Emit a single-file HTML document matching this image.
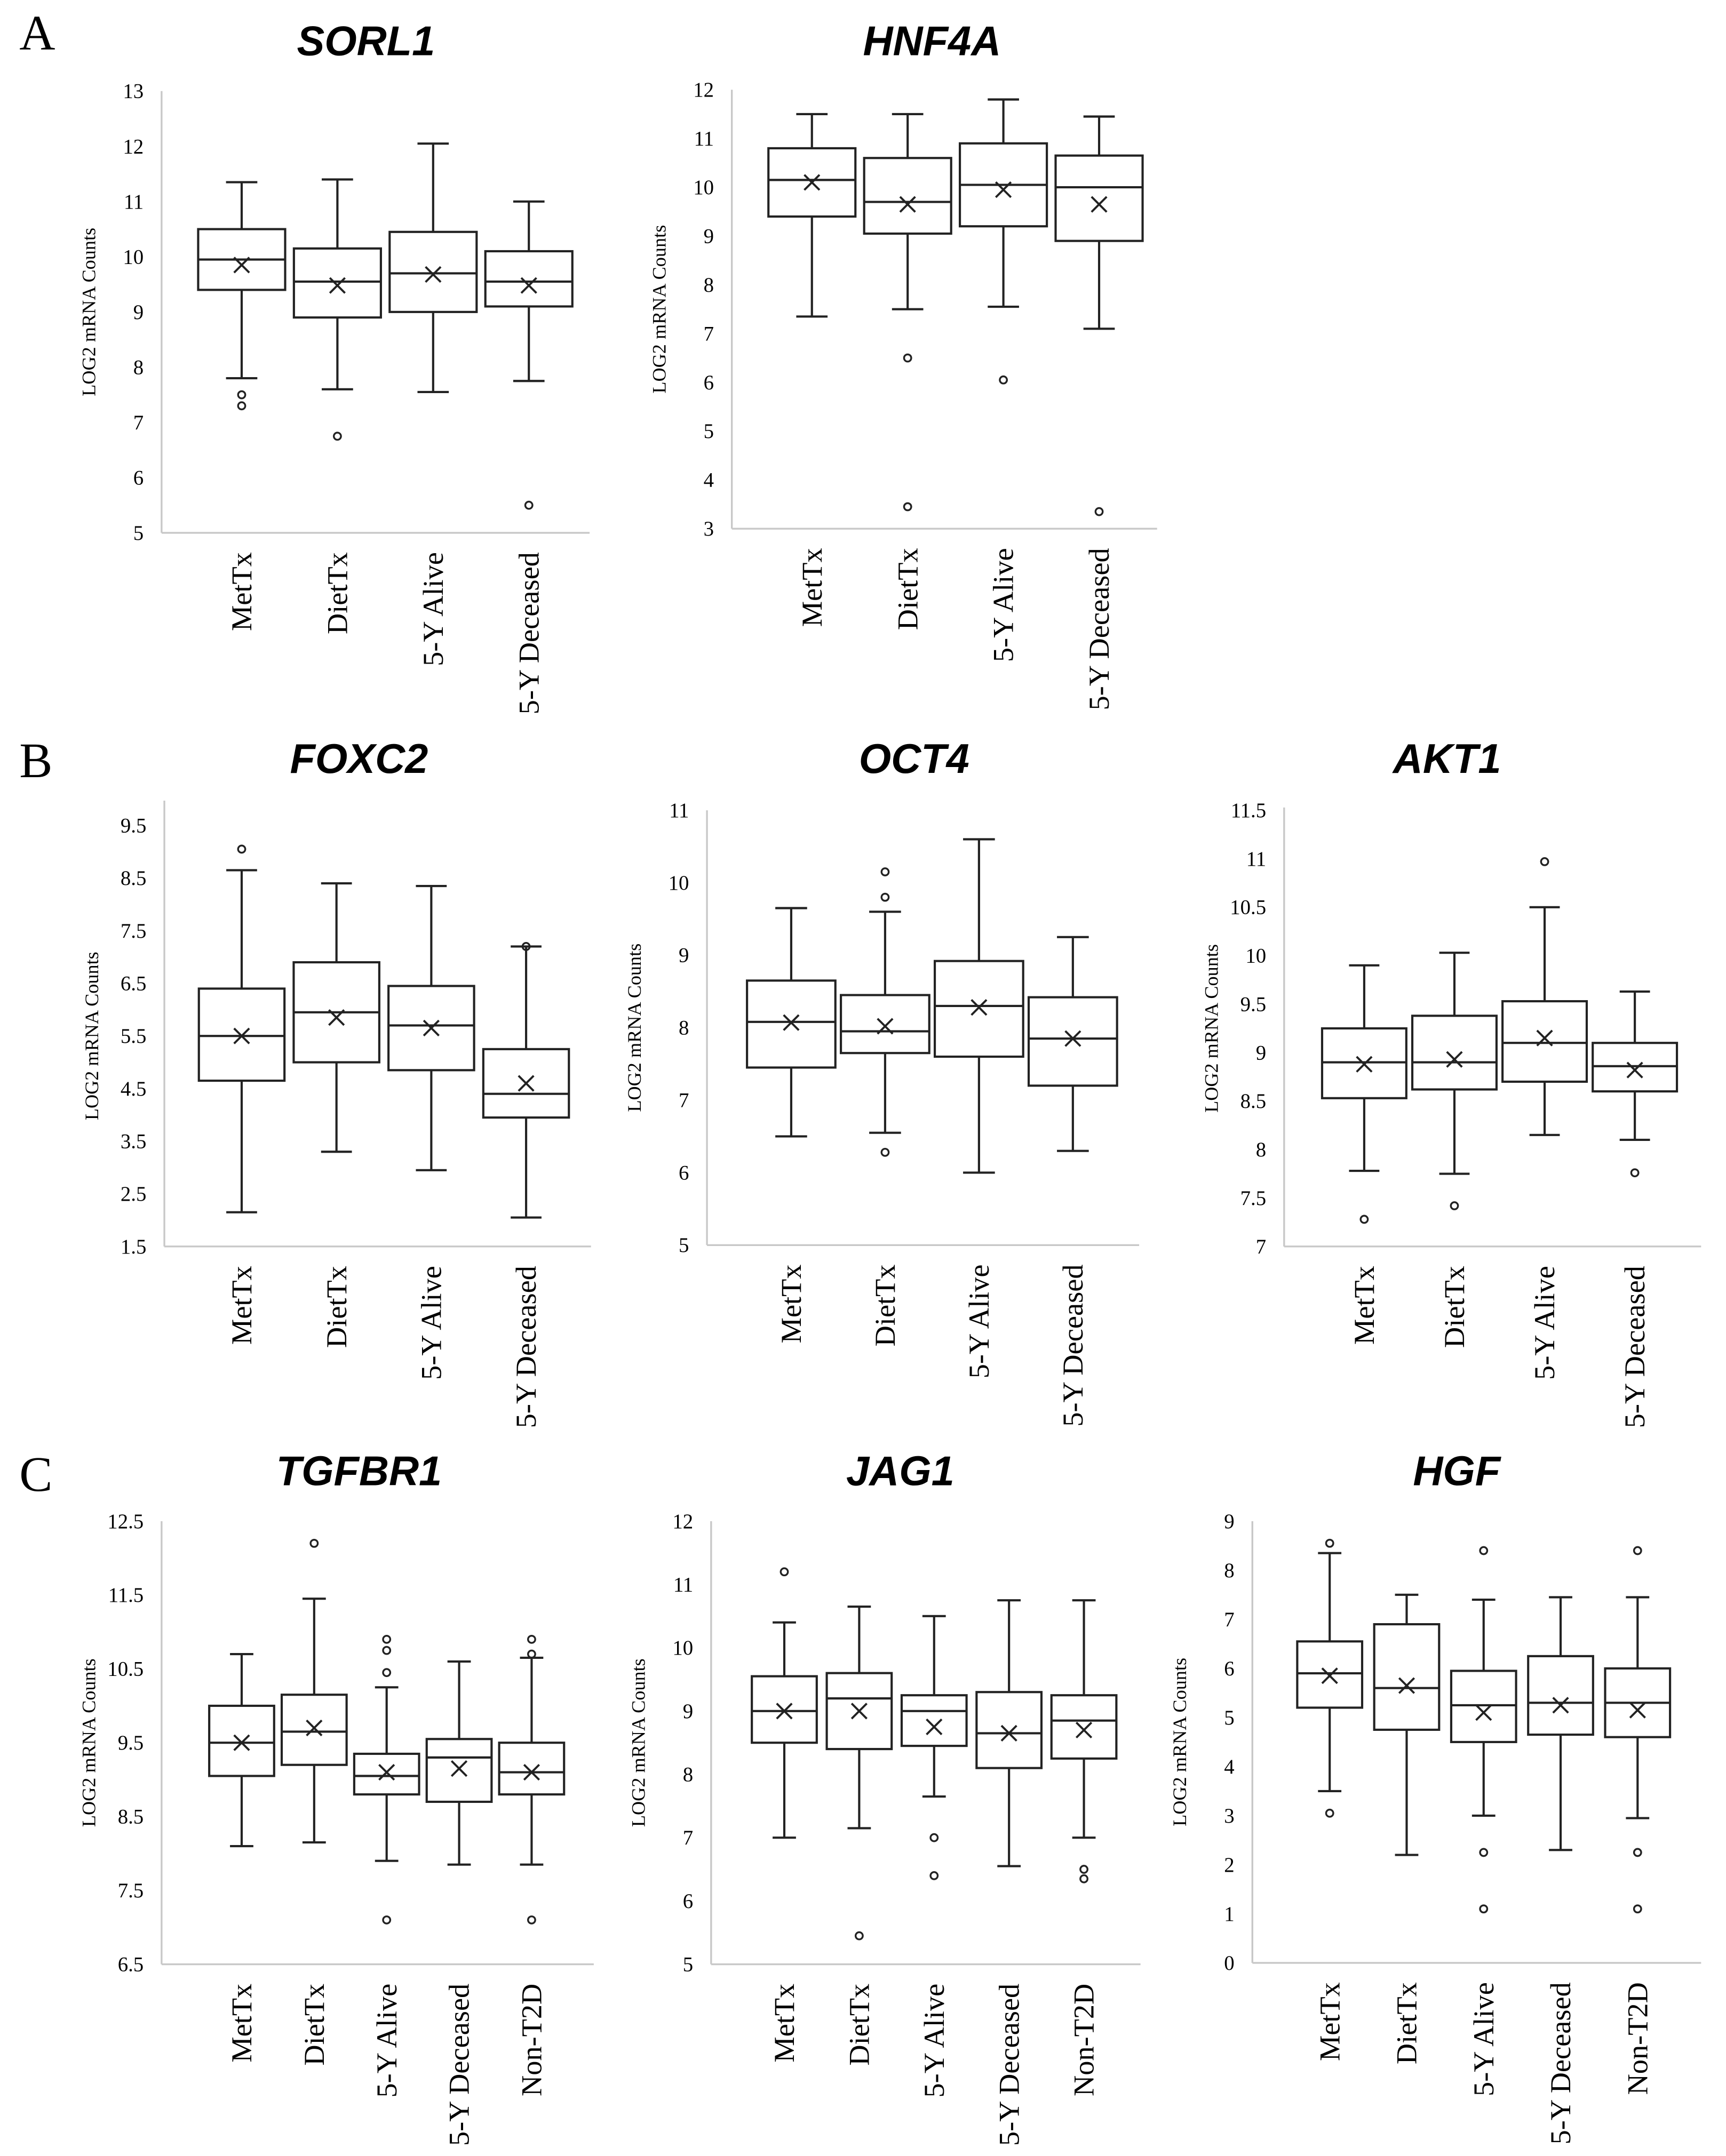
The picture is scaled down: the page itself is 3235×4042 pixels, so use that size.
<!DOCTYPE html>
<html><head><meta charset="utf-8"><style>
html,body{margin:0;padding:0;background:#fff;}
svg{display:block;}
</style></head><body>
<svg id="fig" width="3235" height="4042" viewBox="0 0 1250 1561.9" xmlns="http://www.w3.org/2000/svg">
<rect width="1250" height="1562" fill="#fff"/>
<text x="14" y="36" font-family="Liberation Serif, serif" font-size="36">A</text>
<text x="14" y="563" font-family="Liberation Serif, serif" font-size="36">B</text>
<text x="14" y="1080" font-family="Liberation Serif, serif" font-size="36">C</text>
</svg>
<script>
const cats4 = ["MetTx","DietTx","5-Y Alive","5-Y Deceased"];
const cats5 = ["MetTx","DietTx","5-Y Alive","5-Y Deceased","Non-T2D"];

const sorl1Ticks = ["5","6","7","8","9","10","11","12","13"];
const sorl1Low = [7.8,7.6,7.55,7.75];
const sorl1Q1 = [9.4,8.9,9.0,9.1];
const sorl1Median = [9.95,9.55,9.7,9.55];
const sorl1Q3 = [10.5,10.15,10.45,10.1];
const sorl1High = [11.35,11.4,12.05,11.0];
const sorl1Mean = [9.85,9.48,9.68,9.48];
const sorl1Outliers = [[7.5,7.3],[6.75],[],[5.5]];

const hnf4aTicks = ["3","4","5","6","7","8","9","10","11","12"];
const hnf4aLow = [7.35,7.5,7.55,7.1];
const hnf4aQ1 = [9.4,9.05,9.2,8.9];
const hnf4aMedian = [10.15,9.7,10.05,10.0];
const hnf4aQ3 = [10.8,10.6,10.9,10.65];
const hnf4aHigh = [11.5,11.5,11.8,11.45];
const hnf4aMean = [10.1,9.65,9.95,9.65];
const hnf4aOutliers = [[],[6.5,3.45],[6.05],[3.35]];

const foxc2Ticks = ["1.5","2.5","3.5","4.5","5.5","6.5","7.5","8.5","9.5"];
const foxc2Low = [2.15,3.3,2.95,2.05];
const foxc2Q1 = [4.65,5.0,4.85,3.95];
const foxc2Median = [5.5,5.95,5.7,4.4];
const foxc2Q3 = [6.4,6.9,6.45,5.25];
const foxc2High = [8.65,8.4,8.35,7.2];
const foxc2Mean = [5.5,5.85,5.65,4.6];
const foxc2Outliers = [[9.05],[],[],[7.2]];

const oct4Ticks = ["5","6","7","8","9","10","11"];
const oct4Low = [6.5,6.55,6.0,6.3];
const oct4Q1 = [7.45,7.65,7.6,7.2];
const oct4Median = [8.08,7.95,8.3,7.85];
const oct4Q3 = [8.65,8.45,8.92,8.42];
const oct4High = [9.65,9.6,10.6,9.25];
const oct4Mean = [8.07,8.02,8.28,7.85];
const oct4Outliers = [[],[6.28,9.8,10.15],[],[]];

const akt1Ticks = ["7","7.5","8","8.5","9","9.5","10","10.5","11","11.5"];
const akt1Low = [7.78,7.75,8.15,8.1];
const akt1Q1 = [8.53,8.62,8.7,8.6];
const akt1Median = [8.9,8.9,9.1,8.86];
const akt1Q3 = [9.25,9.38,9.53,9.1];
const akt1High = [9.9,10.03,10.5,9.63];
const akt1Mean = [8.88,8.93,9.15,8.82];
const akt1Outliers = [[7.28],[7.42],[10.97],[7.76]];

const tgfbr1Ticks = ["6.5","7.5","8.5","9.5","10.5","11.5","12.5"];
const tgfbr1Low = [8.1,8.15,7.9,7.85,7.85];
const tgfbr1Q1 = [9.05,9.2,8.8,8.7,8.8];
const tgfbr1Median = [9.5,9.65,9.05,9.3,9.1];
const tgfbr1Q3 = [10.0,10.15,9.35,9.55,9.5];
const tgfbr1High = [10.7,11.45,10.25,10.6,10.65];
const tgfbr1Mean = [9.5,9.7,9.1,9.15,9.1];
const tgfbr1Outliers = [[],[12.2],[10.9,10.75,10.45,7.1],[],[10.9,10.7,7.1]];

const jag1Ticks = ["5","6","7","8","9","10","11","12"];
const jag1Low = [7.0,7.15,7.65,6.55,7.0];
const jag1Q1 = [8.5,8.4,8.45,8.1,8.25];
const jag1Median = [9.0,9.2,9.0,8.65,8.85];
const jag1Q3 = [9.55,9.6,9.25,9.3,9.25];
const jag1High = [10.4,10.65,10.5,10.75,10.75];
const jag1Mean = [9.0,9.0,8.75,8.65,8.7];
const jag1Outliers = [[11.2],[5.45],[7.0,6.4],[],[6.5,6.35]];

const hgfTicks = ["0","1","2","3","4","5","6","7","8","9"];
const hgfLow = [3.5,2.2,3.0,2.3,2.95];
const hgfQ1 = [5.2,4.75,4.5,4.65,4.6];
const hgfMedian = [5.9,5.6,5.25,5.3,5.3];
const hgfQ3 = [6.55,6.9,5.95,6.25,6.0];
const hgfHigh = [8.35,7.5,7.4,7.45,7.45];
const hgfMean = [5.85,5.65,5.1,5.25,5.15];
const hgfOutliers = [[8.55,3.05],[],[8.4,2.25,1.1],[],[8.4,2.25,1.1]];

const NS = "http://www.w3.org/2000/svg";
const svg = document.getElementById('fig');
function mk(tag, attrs, parent){const e=document.createElementNS(NS,tag);for(const k in attrs)e.setAttribute(k,attrs[k]);(parent||svg).appendChild(e);return e;}

function chart(id, title, titleX, titleY, cats, ticks, low, q1, med, q3, high, mean, outl, L){
  const g = mk('g',{});
  
  
  const t0 = parseFloat(ticks[0]), t1 = parseFloat(ticks[ticks.length-1]);
  const y = v => L.yBot - (v - t0)/(t1 - t0)*(L.yBot - L.yTop);
  const n = cats.length;
  const step = (L.xR - L.x0 - L.padL - L.padR)/(n-1);
  const cx = i => L.x0 + L.padL + i*step;
  const tt = mk('text',{x:titleX,y:titleY,'text-anchor':'middle','font-family':'Liberation Sans, sans-serif','font-weight':'bold','font-style':'italic','font-size':30},g);
  tt.textContent = title;
  
  
  const ax = mk('line',{x1:L.x0,y1:L.axTop,x2:L.x0,y2:L.yBot,stroke:'#c8c8c8','stroke-width':1.3},g);
  
  
  const xx = mk('line',{x1:L.x0,y1:L.yBot,x2:L.xR,y2:L.yBot,stroke:'#c8c8c8','stroke-width':1.3},g);
  
  
  ticks.forEach(tk=>{
    const e = mk('text',{x:L.x0-13,y:y(parseFloat(tk))+5,'text-anchor':'end','font-family':'Liberation Serif, serif','font-size':15},g);
    e.textContent = tk;
    
    
  });
  const yt = mk('text',{x:0,y:0,transform:`translate(${L.x0-48},${(L.yTop+L.yBot)/2}) rotate(-90)`,'text-anchor':'middle','font-family':'Liberation Serif, serif','font-size':14},g);
  yt.textContent = 'LOG2 mRNA Counts';
  
  
  const bw = L.bw, cap = bw*0.36;
  cats.forEach((c,i)=>{
    const x = cx(i);
    const bg = mk('g',{stroke:'#222','stroke-width':1.6,fill:'none'},g);
    
    
    mk('line',{x1:x,y1:y(high[i]),x2:x,y2:y(q3[i])},bg);
    mk('line',{x1:x,y1:y(low[i]),x2:x,y2:y(q1[i])},bg);
    mk('line',{x1:x-cap/2,y1:y(high[i]),x2:x+cap/2,y2:y(high[i])},bg);
    mk('line',{x1:x-cap/2,y1:y(low[i]),x2:x+cap/2,y2:y(low[i])},bg);
    mk('rect',{x:x-bw/2,y:y(q3[i]),width:bw,height:y(q1[i])-y(q3[i])},bg);
    mk('line',{x1:x-bw/2,y1:y(med[i]),x2:x+bw/2,y2:y(med[i])},bg);
    const m = y(mean[i]), s=5.5;
    mk('path',{d:`M${x-s},${m-s}L${x+s},${m+s}M${x-s},${m+s}L${x+s},${m-s}`,'stroke-width':1.5},bg);
    outl[i].forEach(v=>{
      const o = mk('circle',{cx:x,cy:y(v),r:2.6,'stroke-width':1.3},bg);
      
      
    });
    const lab = mk('text',{x:0,y:0,transform:`translate(${x+7},${L.yBot+14}) rotate(-90)`,'text-anchor':'end','font-family':'Liberation Serif, serif','font-size':21},g);
    lab.textContent = c;
    
    
  });
}

chart('sorl1','SORL1',265,40,cats4,sorl1Ticks,sorl1Low,sorl1Q1,sorl1Median,sorl1Q3,sorl1High,sorl1Mean,sorl1Outliers,
  {x0:117,xR:427,padL:58,padR:44,yTop:66,yBot:386,axTop:66,bw:63});
chart('hnf4a','HNF4A',675,40,cats4,hnf4aTicks,hnf4aLow,hnf4aQ1,hnf4aMedian,hnf4aQ3,hnf4aHigh,hnf4aMean,hnf4aOutliers,
  {x0:530,xR:838,padL:58,padR:42,yTop:65,yBot:383,axTop:65,bw:63});
chart('foxc2','FOXC2',260,560,cats4,foxc2Ticks,foxc2Low,foxc2Q1,foxc2Median,foxc2Q3,foxc2High,foxc2Mean,foxc2Outliers,
  {x0:119,xR:428,padL:56,padR:47,yTop:598,yBot:903,axTop:580,bw:62});
chart('oct4','OCT4',662,560,cats4,oct4Ticks,oct4Low,oct4Q1,oct4Median,oct4Q3,oct4High,oct4Mean,oct4Outliers,
  {x0:512,xR:825,padL:61,padR:48,yTop:587,yBot:902,axTop:587,bw:64});
chart('akt1','AKT1',1048,560,cats4,akt1Ticks,akt1Low,akt1Q1,akt1Median,akt1Q3,akt1High,akt1Mean,akt1Outliers,
  {x0:930,xR:1232,padL:58,padR:48,yTop:587,yBot:903,axTop:585,bw:61});
chart('tgfbr1','TGFBR1',260,1076,cats5,tgfbr1Ticks,tgfbr1Low,tgfbr1Q1,tgfbr1Median,tgfbr1Q3,tgfbr1High,tgfbr1Mean,tgfbr1Outliers,
  {x0:117,xR:430,padL:58,padR:45,yTop:1102,yBot:1423,axTop:1102,bw:47});
chart('jag1','JAG1',652,1076,cats5,jag1Ticks,jag1Low,jag1Q1,jag1Median,jag1Q3,jag1High,jag1Mean,jag1Outliers,
  {x0:515,xR:826,padL:53,padR:41,yTop:1102,yBot:1423,axTop:1102,bw:47});
chart('hgf','HGF',1055,1076,cats5,hgfTicks,hgfLow,hgfQ1,hgfMedian,hgfQ3,hgfHigh,hgfMean,hgfOutliers,
  {x0:907,xR:1232,padL:56,padR:46,yTop:1102,yBot:1422,axTop:1102,bw:47});
</script>
</body></html>
